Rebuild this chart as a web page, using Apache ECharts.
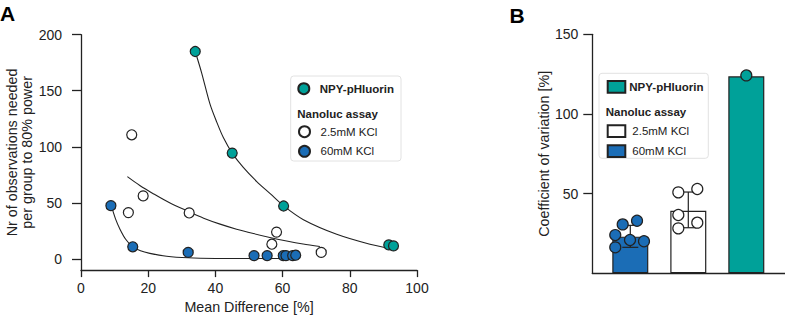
<!DOCTYPE html>
<html>
<head>
<meta charset="utf-8">
<script src="https://cdn.jsdelivr.net/npm/echarts@6/dist/echarts.min.js"></script>
<style>
    html, body { margin: 0; padding: 0; background: #fff; }
    #chart { width: 785px; height: 319px; }
</style>
</head>
<body>
<div id="chart"></div>
<script>
// panel A: observations needed vs mean difference
var npyMeanDiff = [34.0, 45.0, 60.3, 91.6, 93.0];
var npyN = [185, 94.4, 47.2, 12.5, 11.6];
var kcl25MeanDiff = [15.1, 14.1, 18.5, 32.2, 58.2, 56.8, 71.5];
var kcl25N = [110.7, 41.3, 56.2, 41.0, 23.9, 13.1, 5.8];
var kcl60MeanDiff = [8.9, 15.4, 31.9, 51.5, 55.4, 60.2, 61.0, 63.0, 63.9];
var kcl60N = [47.5, 10.8, 5.8, 2.9, 2.9, 2.9, 2.9, 2.9, 3.3];
// fitted curves
var npyFit = [[34, 185], [35.9, 166], [38.4, 138], [40.4, 122], [42.4, 108], [45, 94.4], [48.3, 81.6],
    [52.3, 69], [56.3, 58.2], [60.3, 47.3], [66.2, 35], [76.1, 22], [86, 13.1], [92, 9.3]];
var kcl25Fit = [[13.8, 73.4], [17.5, 65.5], [21.5, 58.2], [26.5, 49.8], [32.2, 42], [36.5, 36.3], [41.4, 31],
    [46.3, 26.5], [51.3, 22.6], [56.2, 19.1], [61.2, 16], [66.1, 13.3], [71.1, 11]];
var kcl60Fit = [[9.1, 46.6], [10.3, 35.5], [11.6, 26.5], [13.3, 17.5], [15.3, 11], [17.7, 7.2], [20.5, 4.9],
    [25.5, 2.4], [31.9, 1.0], [40, 0.4], [50, 0.3], [60, 0.3]];
var yTicksA = [0, 50, 100, 150, 200];

// panel B: coefficient of variation
var cvGroups = ['60mM KCl', '2.5mM KCl', 'NPY-pHluorin'];
var cvMean = [23.0, 39.3, 123.6];
var cvLow = [16.3, 28.6, 123.6];
var cvHigh = [30.1, 51.0, 123.6];
var cv60Offset = [-0.131, 0.116, -0.259, -0.005, 0.236, -0.259];
var cv60 = [30.7, 33.0, 24.0, 20.9, 20.1, 16.3];
var cv25Offset = [-0.172, 0.155, -0.172, 0.155, -0.172];
var cv25 = [50.8, 52.9, 36.6, 31.8, 28.2];
var cvNpy = [124.2];
var yTicksB = [50, 100, 150];

var TEAL = '#00a199';
var BLUE = '#1b6db6';
var INK = '#222';
var FONT = 'Liberation Sans';

function pairs(xs, ys) {
    return xs.map(function (x, i) { return [x, ys[i]]; });
}
function dots(name, data, color) {
    return {
        name: name, type: 'scatter', xAxisIndex: 0, yAxisIndex: 0, z: 4,
        symbolSize: 10, data: data,
        itemStyle: {color: color, borderColor: INK, borderWidth: 1.2, opacity: 1}
    };
}
function fit(data) {
    return {
        type: 'line', xAxisIndex: 0, yAxisIndex: 0, z: 2,
        data: data, smooth: 0.3, showSymbol: false, silent: true,
        lineStyle: {color: INK, width: 1.1}
    };
}
function bar(i, color) {
    var d = [];
    d[0] = [i, cvMean[i]];
    return {
        name: cvGroups[i], type: 'bar', xAxisIndex: 1, yAxisIndex: 1, z: 2,
        barWidth: 36, barGap: '-100%', data: d,
        itemStyle: {color: color, borderColor: INK, borderWidth: 1.2}
    };
}
function cvDots(xs, ys, center, color) {
    return {
        type: 'scatter', xAxisIndex: 1, yAxisIndex: 1, z: 5, symbolSize: 11,
        data: ys.map(function (y, i) { return [center + xs[i], y]; }),
        itemStyle: {color: color, borderColor: INK, borderWidth: 1.2, opacity: 1}
    };
}

var axisLine = {show: true, onZero: false, lineStyle: {color: INK, width: 1.3}};
var labelStyle = {color: INK, fontFamily: FONT, fontSize: 14};
var nameStyle = {color: INK, fontFamily: FONT, fontSize: 14.3};
var legendText = {color: INK, fontFamily: FONT, fontSize: 11.5};

var option = {
    animation: false,
    textStyle: {fontFamily: FONT},
    grid: [
        {left: 81, top: 34.7, width: 336, height: 240},
        {left: 592.3, top: 34.3, right: 0, bottom: 45.7}
    ],
    xAxis: [{
        gridIndex: 0, type: 'value', min: 0, max: 100, interval: 20,
        axisLine: axisLine,
        axisTick: {show: true, length: 7, lineStyle: {color: INK, width: 1.3}},
        axisLabel: Object.assign({margin: 11}, labelStyle),
        splitLine: {show: false},
        name: 'Mean Difference [%]', nameLocation: 'middle', nameGap: 27,
        nameTextStyle: nameStyle
    }, {
        gridIndex: 1, type: 'value', min: -0.655, max: 2.667,
        axisLine: axisLine,
        axisTick: {show: false}, axisLabel: {show: false}, splitLine: {show: false}
    }],
    yAxis: [{
        gridIndex: 0, type: 'value', min: -10, max: 200,
        axisLine: axisLine,
        axisTick: {show: true, length: 9, customValues: yTicksA, lineStyle: {color: INK, width: 1.3}},
        axisLabel: Object.assign({margin: 19, customValues: yTicksA}, labelStyle),
        splitLine: {show: false},
        name: 'Nr of observations needed\nper group to 80% power',
        nameLocation: 'middle', nameRotate: 90, nameGap: 47,
        nameTextStyle: Object.assign({lineHeight: 14.5}, nameStyle)
    }, {
        gridIndex: 1, type: 'value', min: 0, max: 150,
        axisLine: axisLine,
        axisTick: {show: true, length: 9, customValues: yTicksB, lineStyle: {color: INK, width: 1.3}},
        axisLabel: Object.assign({margin: 14, customValues: yTicksB}, labelStyle),
        splitLine: {show: false},
        name: 'Coefficient of variation [%]', nameLocation: 'middle', nameRotate: 90, nameGap: 40,
        nameTextStyle: nameStyle
    }],
    legend: [{
        data: [{name: 'NPY-pHluorin', icon: 'circle'}],
        left: 297.3, top: 82.2, padding: 0, itemWidth: 16, itemHeight: 11,
        textStyle: Object.assign({fontWeight: 'bold', padding: [0, 0, 0, 3]}, legendText)
    }, {
        data: [{name: '2.5mM KCl', icon: 'circle'}, {name: '60mM KCl', icon: 'circle'}],
        orient: 'vertical', left: 298, top: 125.2, padding: 0, itemWidth: 16, itemHeight: 11, itemGap: 6.6,
        textStyle: Object.assign({lineHeight: 11, padding: [0, 0, 0, 3]}, legendText)
    }, {
        data: [{name: 'NPY-pHluorin', icon: 'rect'}],
        left: 606.7, top: 80, padding: 0, itemWidth: 17.6, itemHeight: 11.7,
        textStyle: Object.assign({fontWeight: 'bold', padding: [0, 0, 0, -1]}, legendText)
    }, {
        data: [{name: '2.5mM KCl', icon: 'rect'}, {name: '60mM KCl', icon: 'rect'}],
        orient: 'vertical', left: 606.7, top: 124.2, padding: 0, itemWidth: 17.6, itemHeight: 11.7, itemGap: 6.3,
        textStyle: Object.assign({lineHeight: 11.7, padding: [0, 0, 0, 2]}, legendText)
    }],
    graphic: [
        {type: 'rect', z: 1, shape: {x: 290.7, y: 76, width: 110.3, height: 85, r: 3},
            style: {fill: '#fff', stroke: '#e2e2e2', lineWidth: 1}},
        {type: 'rect', z: 1, shape: {x: 599, y: 73.3, width: 109.3, height: 85, r: 3},
            style: {fill: '#fff', stroke: '#e2e2e2', lineWidth: 1}},
        {type: 'text', z: 5, x: 297.3, y: 114.3,
            style: {text: 'Nanoluc assay', fill: INK, font: 'bold 11.5px "Liberation Sans"', textVerticalAlign: 'middle'}},
        {type: 'text', z: 5, x: 605.7, y: 111.7,
            style: {text: 'Nanoluc assay', fill: INK, font: 'bold 11.5px "Liberation Sans"', textVerticalAlign: 'middle'}},
        {type: 'text', z: 5, x: 0, y: 13,
            style: {text: 'A', fill: '#000', font: 'bold 21px "Liberation Sans"', textVerticalAlign: 'middle'}},
        {type: 'text', z: 5, x: 509.5, y: 15,
            style: {text: 'B', fill: '#000', font: 'bold 21px "Liberation Sans"', textVerticalAlign: 'middle'}}
    ],
    series: [
        fit(npyFit), fit(kcl25Fit), fit(kcl60Fit),
        dots('NPY-pHluorin', pairs(npyMeanDiff, npyN), TEAL),
        dots('2.5mM KCl', pairs(kcl25MeanDiff, kcl25N), '#fff'),
        dots('60mM KCl', pairs(kcl60MeanDiff, kcl60N), BLUE),
        bar(0, BLUE), bar(1, '#fff'), bar(2, TEAL),
        {
            type: 'custom', xAxisIndex: 1, yAxisIndex: 1, z: 3, silent: true,
            data: cvLow.slice(0, 2).map(function (lo, i) { return [i, lo, cvHigh[i]]; }),
            renderItem: function (params, api) {
                var lo = api.coord([api.value(0), api.value(1)]);
                var hi = api.coord([api.value(0), api.value(2)]);
                var w = 8;
                var st = {stroke: INK, lineWidth: 1.2};
                return {
                    type: 'group', children: [
                        {type: 'line', shape: {x1: lo[0], y1: lo[1], x2: hi[0], y2: hi[1]}, style: st},
                        {type: 'line', shape: {x1: hi[0] - w, y1: hi[1], x2: hi[0] + w, y2: hi[1]}, style: st},
                        {type: 'line', shape: {x1: lo[0] - w, y1: lo[1], x2: lo[0] + w, y2: lo[1]}, style: st}
                    ]
                };
            }
        },
        cvDots(cv60Offset, cv60, 0, BLUE),
        cvDots(cv25Offset, cv25, 1, '#fff'),
        cvDots([0], cvNpy, 2, TEAL)
    ]
};

var myChart = echarts.init(document.getElementById('chart'), null, {renderer: 'svg'});
myChart.setOption(option);
</script>
</body>
</html>
